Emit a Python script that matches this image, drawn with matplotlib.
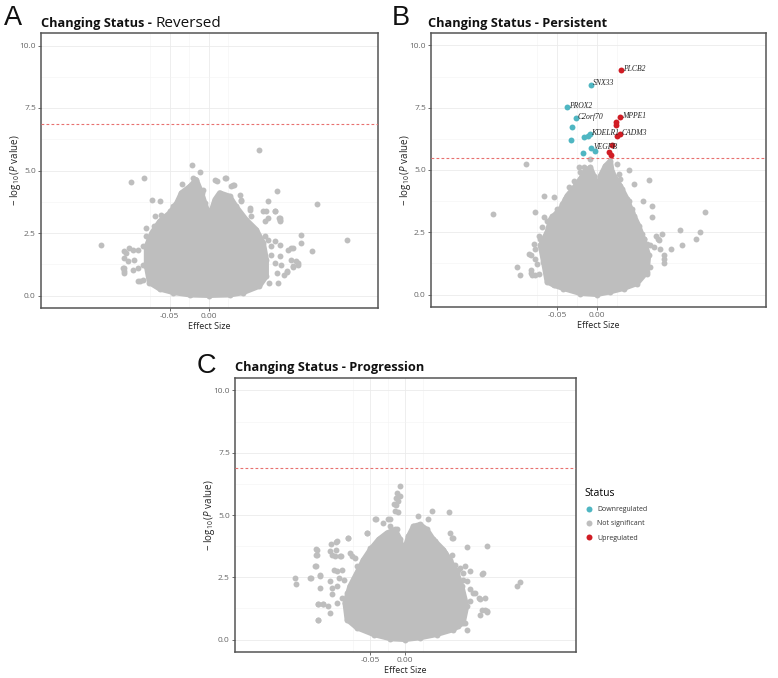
import matplotlib
matplotlib.use('Agg')
import matplotlib.pyplot as plt
from matplotlib.lines import Line2D

plt.rcParams['font.family'] = ['Open Sans', 'DejaVu Sans']
plt.rcParams['mathtext.fontset'] = 'custom'
plt.rcParams['mathtext.rm'] = 'Open Sans'
plt.rcParams['mathtext.it'] = 'Open Sans:italic'

GREY = '#BEBEBE'
CYAN = '#4FB6C2'
RED = '#D01C24'
DOT = 18

# ---- Reversed ----
rev_threshold = 6.87
rev_cloud_x = [-0.076, -0.080, -0.080, -0.073, -0.063, -0.050, -0.041, -0.035, -0.024, -0.016,
               -0.009, -0.005, 0.001, 0.008, 0.014, 0.027, 0.035, 0.048, 0.061, 0.070,
               0.074, 0.074, 0.065, 0.044, 0.027, 0.0, -0.024, -0.046, -0.063]
rev_cloud_y = [0.51, 1.17, 1.97, 2.51, 2.97, 3.31, 3.71, 4.11, 4.37, 4.64,
               4.11, 3.71, 3.17, 3.84, 4.11, 3.97, 3.57, 3.04, 2.64, 2.11,
               1.44, 0.77, 0.37, 0.11, 0.02, 0.0, 0.02, 0.12, 0.26]
rev_pts_x = [-0.138, -0.100, -0.083, -0.073, -0.063, -0.021, -0.0115, 0.065, 0.087, 0.139,
             0.177, 0.132, 0.118, 0.118, 0.076, 0.085, 0.090, 0.108, 0.114, 0.108,
             0.100, 0.089, 0.077, -0.108, -0.108, -0.091, -0.084, -0.109, -0.102, -0.096,
             -0.081, -0.070, -0.069, -0.046, -0.034, 0.010, 0.0205, 0.031, 0.042, 0.053,
             0.054, 0.074, 0.091, -0.110, 0.0077,
             -0.061, -0.050, -0.037, -0.020, -0.016, -0.007, -0.041, -0.080, -0.076, -0.084,
             -0.091, -0.097, -0.106, -0.108, -0.103, -0.108, -0.097, -0.091, -0.084, -0.088,
             -0.063, -0.059,
             0.0226, 0.029, 0.033, 0.040, 0.042, 0.053, 0.070, 0.072, 0.076, 0.085,
             0.091, 0.091, 0.072, 0.076, 0.085, 0.080, 0.080, 0.091, 0.102, 0.106,
             0.091, 0.085, 0.093, 0.100, 0.106, 0.112, 0.1145, 0.108, 0.097, 0.087]
rev_pts_y = [2.01, 4.53, 4.71, 3.84, 3.77, 5.24, 4.96, 5.84, 4.17, 3.65,
             2.24, 1.77, 2.41, 2.10, 3.77, 3.37, 3.10, 1.90, 1.30, 1.15,
             0.95, 0.51, 0.51, 0.97, 1.10, 0.57, 0.64, 1.77, 1.90, 1.44,
             2.70, 2.77, 3.17, 3.57, 4.47, 4.60, 4.71, 4.44, 3.80, 3.44,
             3.17, 3.37, 3.04, 1.11, 4.64,
             3.24, 3.37, 3.77, 4.71, 4.51, 4.24, 3.17, 2.37, 2.24, 1.97,
             1.84, 1.84, 1.71, 1.51, 1.37, 0.91, 1.04, 1.11, 1.24, 0.57,
             0.51, 0.37,
             4.71, 4.37, 4.44, 4.04, 3.84, 3.51, 3.37, 2.97, 3.11, 3.37,
             3.11, 2.97, 2.37, 2.24, 2.17, 1.97, 1.64, 2.04, 1.84, 1.91,
             1.57, 1.31, 1.24, 0.97, 1.44, 1.37, 1.24, 1.17, 0.84, 0.91]

# ---- Persistent ----
per_threshold = 5.47
per_cloud_x = [-0.0625, -0.067, -0.071, -0.0625, -0.058, -0.046, -0.0375, -0.027, -0.021, -0.015,
               -0.0084, -0.004, 0.0, 0.004, 0.0104, 0.0166, 0.019, 0.029, 0.0375, 0.044,
               0.052, 0.058, 0.0645, 0.0625, 0.050, 0.033, 0.0166, 0.0, -0.021, -0.042, -0.054]
per_cloud_y = [0.51, 1.31, 1.97, 2.51, 3.04, 3.44, 3.97, 4.37, 4.64, 4.97,
               5.11, 4.77, 4.11, 4.77, 5.17, 5.37, 4.91, 4.37, 3.84, 3.31,
               2.77, 2.24, 1.57, 0.91, 0.44, 0.24, 0.11, 0.0, 0.04, 0.24, 0.37]
per_pts_x = [-0.130, -0.089, -0.100, -0.096, -0.078, -0.066, -0.0535, -0.085, -0.083, -0.078,
             -0.023, -0.035, 0.0395, 0.046, 0.0645, 0.0575, 0.069, 0.069, 0.1345, 0.104,
             0.129, 0.123, 0.106, 0.092, 0.081, 0.076, 0.083, 0.084, -0.009,
             -0.0667, -0.0625, -0.069, -0.073, -0.071, -0.079, -0.077, -0.083, -0.077, -0.075,
             -0.083, -0.081, -0.073, -0.0625, -0.0605, -0.056, -0.050, -0.044, -0.040, -0.029,
             -0.021, -0.0167,
             0.025, 0.027, 0.029, 0.031, 0.0395, 0.044, 0.046, 0.048, 0.052, 0.056,
             0.058, 0.0625, 0.0667, 0.071, 0.073, 0.077, 0.079, 0.060, 0.054, 0.0667,
             0.0625, 0.083]
per_pts_y = [3.24, 5.24, 1.10, 0.80, 3.31, 3.97, 3.93, 1.64, 0.87, 0.80,
             5.11, 4.31, 5.01, 4.44, 4.61, 3.77, 3.57, 3.10, 3.31, 2.60,
             2.53, 2.21, 1.97, 1.81, 2.44, 2.24, 1.44, 1.57, 5.44,
             3.11, 2.97, 2.71, 2.37, 2.24, 2.04, 1.84, 1.57, 1.44, 1.24,
             0.97, 0.77, 0.84, 1.84, 2.64, 3.17, 3.44, 3.64, 3.84, 4.57,
             4.91, 5.11,
             5.24, 4.84, 4.64, 4.24, 3.77, 3.44, 3.17, 2.84, 2.51, 2.44,
             2.24, 2.04, 1.97, 1.91, 2.37, 2.17, 1.84, 1.84, 1.44, 1.11,
             0.84, 1.28]
per_up_x = [0.0304, 0.029, 0.024, 0.024, 0.029, 0.025, 0.019, 0.0146, 0.017]
per_up_y = [9.00, 7.11, 6.91, 6.82, 6.44, 6.37, 6.01, 5.73, 5.60]
per_down_x = [-0.007, -0.037, -0.026, -0.031, -0.033, -0.016, -0.009, -0.011, -0.007, -0.003, -0.018]
per_down_y = [8.43, 7.53, 7.07, 6.73, 6.20, 6.33, 6.44, 6.37, 5.89, 5.76, 5.68]
gene_names = ['PLCB2', 'SNX33', 'PROX2', 'C2orf70', 'MPPE1', 'KDELR1', 'CADM3', 'VEGFB']
gene_x = [0.0304, -0.007, -0.037, -0.026, 0.029, -0.009, 0.029, -0.007]
gene_y = [9.00, 8.43, 7.53, 7.07, 7.11, 6.44, 6.44, 5.89]

# ---- Progression ----
pro_threshold = 6.88
pro_cloud_x = [-0.083, -0.086, -0.079, -0.069, -0.0595, -0.050, -0.038, -0.026, -0.0143, -0.007,
               -0.0024, 0.0047, 0.0119, 0.0214, 0.031, 0.0404, 0.0547, 0.064, 0.074, 0.081,
               0.088, 0.083, 0.069, 0.045, 0.0214, 0.0, -0.021, -0.045, -0.069]
pro_cloud_y = [0.80, 1.47, 2.14, 2.68, 3.21, 3.61, 4.02, 4.28, 4.42, 4.02,
               3.48, 4.15, 4.55, 4.62, 4.42, 4.02, 3.61, 3.21, 2.68, 2.14,
               1.34, 0.67, 0.40, 0.20, 0.07, 0.0, 0.03, 0.20, 0.47]
pro_pts_x = [-0.158, -0.156, -0.135, -0.127, -0.127, -0.127, -0.121, -0.125, -0.124, -0.117,
             -0.099, -0.106, -0.092, -0.082, -0.099, -0.055, -0.042, -0.021, -0.0071, -0.011,
             -0.0129, -0.0157, -0.0096, 0.018, 0.038, 0.062, 0.032, 0.064, 0.068, 0.088,
             0.1176, 0.111, 0.1595, 0.164, 0.107, 0.114, 0.117, 0.107, 0.0976, 0.083, 0.079,
             -0.0071, -0.0095, -0.0129, -0.0143, -0.043, -0.031, -0.024, -0.021, -0.012, -0.055,
             -0.050, -0.045, -0.040, -0.0976, -0.081, -0.0786, -0.076, -0.0714, -0.069, -0.107,
             -0.105, -0.100, -0.093, -0.126, -0.126, -0.129, -0.121, -0.136, -0.102, -0.0976,
             -0.090, -0.095, -0.107, -0.105, -0.0976, -0.088, -0.121, -0.124, -0.117, -0.110,
             -0.105, -0.107, -0.124, -0.0976, -0.090, -0.083,
             0.0143, 0.024, 0.033, 0.040, 0.043, 0.048, 0.0667, 0.057, 0.0667, 0.071,
             0.076, 0.086, 0.093, 0.083, 0.088, 0.1095, 0.093, 0.100, 0.105, 0.114,
             0.093, 0.1095, 0.1167, 0.083, 0.086, 0.076, 0.088]
pro_pts_y = [2.48, 2.24, 2.48, 3.65, 3.41, 2.95, 2.54, 0.80, 1.41, 1.41,
             3.61, 3.85, 3.35, 4.08, 3.93, 4.28, 4.82, 4.82, 6.16, 5.89,
             5.69, 5.46, 5.11, 4.95, 5.15, 5.13, 4.85, 4.28, 4.08, 3.71,
             3.75, 2.68, 2.14, 2.30, 1.63, 1.20, 1.09, 1.00, 1.87, 2.68, 2.88,
             5.76, 5.56, 5.42, 5.15, 4.82, 4.69, 4.82, 4.55, 4.42, 4.28,
             3.68, 3.55, 3.75, 3.95, 4.08, 3.48, 3.35, 3.28, 2.95, 3.55,
             3.41, 3.35, 3.35, 3.61, 3.41, 2.95, 2.61, 2.48, 2.81, 2.74,
             2.81, 2.48, 2.34, 2.07, 2.14, 2.41, 2.07, 1.41, 1.41, 1.34,
             1.81, 1.07, 0.80, 1.47, 1.67, 1.87,
             4.42, 4.42, 4.15, 3.95, 3.95, 3.61, 4.08, 3.48, 3.41, 3.01,
             2.81, 2.95, 2.74, 2.41, 2.34, 2.65, 2.01, 1.87, 1.67, 1.67,
             1.54, 1.20, 1.14, 1.20, 0.67, 0.53, 0.40]

fig = plt.figure(figsize=(7.78, 6.78), dpi=100)
W, H = 778, 678


def px_axes(left, top, right, bottom):
    return fig.add_axes([left / W, 1 - bottom / H, (right - left) / W, (bottom - top) / H])


def volcano(ax, cloud_x, cloud_y, pts_x, pts_y, threshold, xlim):
    ax.set_xlim(*xlim)
    ax.set_ylim(-0.5, 10.5)
    ax.set_xticks([-0.05, 0.0])
    ax.set_xticklabels(['-0.05', '0.00'])
    ax.set_xticks([-0.075, -0.025, 0.025], minor=True)
    ax.set_yticks([0, 2.5, 5, 7.5, 10])
    ax.set_yticklabels(['0.0', '2.5', '5.0', '7.5', '10.0'])
    ax.set_yticks([1.25, 3.75, 6.25, 8.75], minor=True)
    ax.grid(which='major', color='#EBEBEB', lw=0.6)
    ax.grid(which='minor', color='#F3F3F3', lw=0.4)
    ax.set_axisbelow(True)
    ax.tick_params(which='major', length=2.2, width=0.6, color='#555555',
                   labelsize=6, labelcolor='#666666', pad=1.5)
    ax.tick_params(which='minor', length=0)
    for s in ax.spines.values():
        s.set_color('#555555')
        s.set_linewidth(1.1)
    ax.fill(cloud_x, cloud_y, facecolor=GREY, edgecolor=GREY, lw=3.6, joinstyle='round', zorder=2)
    ax.scatter(cloud_x, cloud_y, s=DOT, color=GREY, lw=0, zorder=2)
    ax.scatter(pts_x, pts_y, s=DOT, color=GREY, lw=0, zorder=2)
    ax.axhline(threshold, color='#E8706F', lw=0.8, ls=(0, (2.5, 2)), zorder=3)
    ax.set_xlabel('Effect Size', fontsize=6.5, color='#222222', labelpad=1)
    ax.set_ylabel(r'$-\ \log_{10}(P\ \mathrm{value})$', fontsize=7, color='#222222', labelpad=-2.5)


ax_a = px_axes(41, 33, 378, 308)
volcano(ax_a, rev_cloud_x, rev_cloud_y, rev_pts_x, rev_pts_y, rev_threshold, (-0.215, 0.217))

ax_b = px_axes(431, 33, 766, 307)
volcano(ax_b, per_cloud_x, per_cloud_y, per_pts_x, per_pts_y, per_threshold, (-0.2075, 0.211))
ax_b.scatter(per_down_x, per_down_y, s=DOT, color=CYAN, lw=0, zorder=4)
ax_b.scatter(per_up_x, per_up_y, s=DOT, color=RED, lw=0, zorder=4)
for name, gx, gy in zip(gene_names, gene_x, gene_y):
    ax_b.annotate(name, (gx, gy), xytext=(1.2, 0.8), textcoords='offset points',
                  ha='left', va='center', fontsize=5.5, style='italic',
                  family='Liberation Serif', color='#222222', zorder=5)

ax_c = px_axes(235, 378, 576, 652)
volcano(ax_c, pro_cloud_x, pro_cloud_y, pro_pts_x, pro_pts_y, pro_threshold, (-0.243, 0.244))

# titles
title_kw = dict(fontsize=9.2, fontweight='bold', color='#111111', va='baseline')
t_a = fig.text(41 / W, 1 - 27 / H, 'Changing Status - ', **title_kw)
fig.canvas.draw()
bb = t_a.get_window_extent(renderer=fig.canvas.get_renderer())
fig.text(bb.x1 / W, 1 - 27 / H, 'Reversed', fontsize=11, color='#111111', va='baseline')
fig.text(428 / W, 1 - 27 / H, 'Changing Status - Persistent', **title_kw)
fig.text(235 / W, 1 - 371 / H, 'Changing Status - Progression', **title_kw)

letter_kw = dict(fontsize=19.5, family='Liberation Sans', color='#111111', va='baseline')
fig.text(4 / W, 1 - 25 / H, 'A', **letter_kw)
fig.text(392 / W, 1 - 25 / H, 'B', **letter_kw)
fig.text(197 / W, 1 - 373 / H, 'C', **letter_kw)

handles = [Line2D([], [], ls='', marker='o', ms=4.3, color=c, mec='none') for c in (CYAN, GREY, RED)]
leg = fig.legend(handles, ['Downregulated', 'Not significant', 'Upregulated'],
                 title='Status', loc='upper left', bbox_to_anchor=(580 / W, 1 - 483 / H),
                 frameon=False, fontsize=5, title_fontsize=7.5, handlelength=1.2,
                 handletextpad=0.6, labelspacing=1.05, borderpad=0.2)
leg._legend_box.align = 'left'
for t in leg.get_texts():
    t.set_color('#333333')

fig.savefig('out.png', dpi=100)
